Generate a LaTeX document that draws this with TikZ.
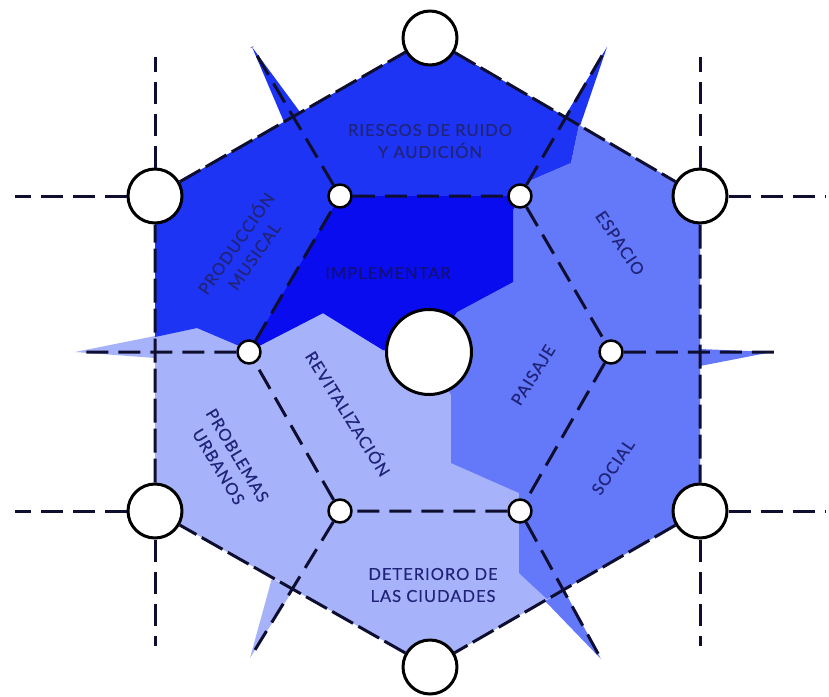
\documentclass[tikz,border=0pt]{standalone}
\usepackage{fontspec}
\setmainfont{Lato}[LetterSpace=6, FakeBold=0.3]
\definecolor{cLight}{RGB}{166,178,250}
\definecolor{cMid}{RGB}{100,120,250}
\definecolor{cTop}{RGB}{30,52,244}
\definecolor{cImp}{RGB}{10,12,240}
\definecolor{lnavy}{RGB}{14,14,48}
\definecolor{tnavy}{RGB}{32,36,120}
\definecolor{timp}{RGB}{16,16,120}
\begin{document}
\begin{tikzpicture}[x=1pt, y=-1pt, line join=round,
  bigc/.style={circle, draw=black, line width=3pt, fill=white, minimum size=54pt, inner sep=0pt},
  smallc/.style={circle, draw=black, line width=2.5pt, fill=white, minimum size=23pt, inner sep=0pt},
  centc/.style={circle, draw=black, line width=3pt, fill=white, minimum size=85pt, inner sep=0pt},
  hexline/.style={lnavy, line width=3pt, dash pattern=on 24pt off 6pt},
  gridline/.style={lnavy, line width=3pt, dash pattern=on 22pt off 10pt},
  lbl/.style={text=tnavy, font=\fontsize{16.5}{22}\selectfont, align=center, inner sep=0pt}]
\useasboundingbox (0,0) rectangle (829,696);
\coordinate (pA) at (430,38);
\coordinate (pB) at (700,196);
\coordinate (pC) at (700,511);
\coordinate (pD) at (430,667);
\coordinate (pE) at (155,511);
\coordinate (pF) at (155,196);
\coordinate (pa) at (340,196);
\coordinate (pb) at (520,196);
\coordinate (pc) at (611,352);
\coordinate (pd) at (520,511);
\coordinate (pe) at (340,511);
\coordinate (pf) at (249,352);
\coordinate (pO) at (429,352);
\fill[cLight] (pA) -- (pB) -- (pC) -- (pD) -- (pE) -- (pF) -- cycle;
\fill[cLight] (75,352) -- (155,336) -- (155,358) -- cycle;
\fill[cLight] (250,658) -- (272,578) -- (293,590) -- cycle;
\fill[cTop] (pF) -- (pA) -- (579,125) -- (571,163) -- (527,182) -- (pb) -- (513,210) -- (513,282) -- (457,312) -- (pO)
  -- (383,350) -- (323,313) -- (257,347) -- (pf) -- (237,345) -- (197,328) -- (155,337) -- cycle;
\fill[cTop] (252,47) -- (284,122) -- (300,112) -- cycle;
\fill[cTop] (607,47) -- (565,116) -- (580,126) -- cycle;
\fill[cMid] (579,125) -- (pB) -- (pC) -- (547,599) -- (519,573) -- (519,493) -- (451,463) -- (451,395) -- (pO)
  -- (457,312) -- (513,282) -- (513,210) -- (pb) -- (527,182) -- (571,163) -- cycle;
\fill[cMid] (772,352) -- (700,349) -- (700,366) -- cycle;
\fill[cMid] (601,659) -- (545,601) -- (564,590) -- cycle;
\fill[cImp] (pa) -- (pb) -- (513,210) -- (513,282) -- (457,312) -- (pO) -- (383,350) -- (323,313) -- (257,347) -- (pf) -- cycle;
\node[bigc] (A) at (pA) {};
\node[bigc] (B) at (pB) {};
\node[bigc] (C) at (pC) {};
\node[bigc] (D) at (pD) {};
\node[bigc] (E) at (pE) {};
\node[bigc] (F) at (pF) {};
\node[smallc] (a) at (pa) {};
\node[smallc] (b) at (pb) {};
\node[smallc] (c) at (pc) {};
\node[smallc] (d) at (pd) {};
\node[smallc] (e) at (pe) {};
\node[smallc] (f) at (pf) {};
\node[centc] (O) at (pO) {};
\coordinate (Fl) at (15,196);
\coordinate (Fu) at (155,57);
\coordinate (Br) at (826,196);
\coordinate (Bu) at (700,57);
\coordinate (El) at (15,511);
\coordinate (Ed) at (155,646);
\coordinate (Cr) at (826,511);
\coordinate (Cd) at (700,646);
\coordinate (ta) at (252,47);
\coordinate (tb) at (607,47);
\coordinate (tc) at (783,352);
\coordinate (td) at (601,659);
\coordinate (te) at (250,658);
\coordinate (tf) at (78,352);
\draw[hexline] (A) -- (B) -- (C) -- (D) -- (E) -- (F) -- (A);
\draw[gridline] (a) -- (b) -- (c) -- (d) -- (e) -- (f) -- (a);
\draw[gridline] (F) -- (Fl) (F) -- (Fu) (B) -- (Br) (B) -- (Bu);
\draw[gridline] (E) -- (El) (E) -- (Ed) (C) -- (Cr) (C) -- (Cd);
\draw[gridline] (a) -- (ta) (b) -- (tb) (c) -- (tc) (d) -- (td) (e) -- (te) (f) -- (tf);
\node[lbl] (riesgos) at (430,141) {RIESGOS DE RUIDO\\Y AUDICIÓN};
\node[lbl, rotate=55] (produccion) at (244,249) {PRODUCCIÓN\\MUSICAL};
\node[lbl, text=timp] (implementar) at (388,273) {IMPLEMENTAR};
\node[lbl, rotate=-56] (espacio) at (620,243) {ESPACIO};
\node[lbl, rotate=58] (paisaje) at (533,375) {PAISAJE};
\node[lbl, rotate=-58] (revital) at (349,413) {REVITALIZACIÓN};
\node[lbl, rotate=-59] (problemas) at (228,461) {PROBLEMAS\\URBANOS};
\node[lbl, rotate=56] (social) at (613,467) {SOCIAL};
\node[lbl] (deterioro) at (433,585) {DETERIORO DE\\LAS CIUDADES};
\end{tikzpicture}
\end{document}
